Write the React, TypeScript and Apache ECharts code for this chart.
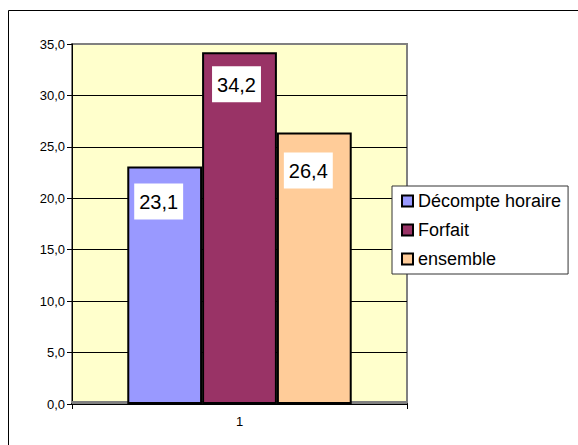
import React, { useEffect, useRef } from "react";
import * as echarts from "echarts";

const categories = ["1"];
const seriesNames = ["Décompte horaire", "Forfait", "ensemble"];
const seriesValues = [[23.1], [34.2], [26.4]];
const seriesColors = ["#9999FF", "#993366", "#FFCC99"];
const labelOffsets = [-6, -3, -6];
const labelDistances = [17, 14, 20];
const yTicks = [0, 5, 10, 15, 20, 25, 30, 35];

const FONT = "'Liberation Sans', Arial, Helvetica, sans-serif";

export default function App() {
  const ref = useRef<HTMLDivElement>(null);
  useEffect(() => {
    if (!ref.current) return;
    const chart = echarts.init(ref.current, undefined, { renderer: "svg" });
    const option: any = {
      animation: false,
      backgroundColor: "#ffffff",
      textStyle: { fontFamily: FONT },
      graphic: [
        {
          type: "rect",
          shape: { x: 8.5, y: 10.5, width: 700, height: 600 },
          style: { fill: "none", stroke: "#000", lineWidth: 1 },
          silent: true,
          z: 100,
        },
      ],
      grid: {
        left: 72,
        top: 44,
        width: 335,
        height: 360,
        show: true,
        backgroundColor: "#FFFFCC",
        borderColor: "#808080",
        borderWidth: 2,
      },
      legend: {
        orient: "vertical",
        left: 392,
        top: 186,
        width: 178,
        padding: [6, 7, 6, 9],
        itemGap: 11,
        itemWidth: 11,
        itemHeight: 11,
        backgroundColor: "#ffffff",
        borderColor: "#333",
        borderWidth: 1,
        icon: "rect",
        selectedMode: false,
        itemStyle: { borderColor: "#000", borderWidth: 2 },
        textStyle: { fontFamily: FONT, fontSize: 18, color: "#000", padding: 0 },
        data: seriesNames,
      },
      xAxis: {
        type: "category",
        data: categories,
        axisLine: { show: true, lineStyle: { color: "#000", width: 2 } },
        axisTick: { show: true, length: 5, lineStyle: { color: "#000" } },
        axisLabel: { color: "#000", fontSize: 13, margin: 11, fontFamily: FONT },
        splitLine: { show: false },
      },
      yAxis: {
        type: "value",
        min: 0,
        max: 35,
        interval: 5,
        axisLine: { show: true, lineStyle: { color: "#000", width: 1 } },
        axisTick: { show: true, length: 5, lineStyle: { color: "#000" } },
        axisLabel: {
          color: "#000",
          fontSize: 13,
          margin: 7,
          fontFamily: FONT,
          formatter: (v: number) => v.toFixed(1).replace(".", ","),
        },
        splitLine: {
          show: true,
          lineStyle: {
            color: yTicks.map((t, i) => (i === yTicks.length - 1 ? "#808080" : "#000")),
            width: 1,
          },
        },
      },
      series: seriesNames.map((name, i) => ({
        name,
        type: "bar",
        data: seriesValues[i],
        barGap: "0%",
        barCategoryGap: "33%",
        itemStyle: { color: seriesColors[i], borderColor: "#000", borderWidth: 2 },
        label: {
          show: true,
          position: "insideTop",
          distance: labelDistances[i],
          offset: [labelOffsets[i], 0],
          formatter: (p: any) => String(p.value).replace(".", ","),
          backgroundColor: "#ffffff",
          color: "#000",
          fontSize: 20,
          fontFamily: FONT,
          lineHeight: 23,
          padding: [7, 5, 6, 5],
        },
        markArea:
          i === 0
            ? {
                silent: true,
                itemStyle: { color: "#808080" },
                data: [[{ yAxis: 0 }, { yAxis: 0.3 }]],
              }
            : undefined,
      })),
    };
    chart.setOption(option);
    return () => chart.dispose();
  }, []);
  return (
    <div
      ref={ref}
      style={{ position: "absolute", left: 0, top: 0, width: 578, height: 445 }}
    />
  );
}
